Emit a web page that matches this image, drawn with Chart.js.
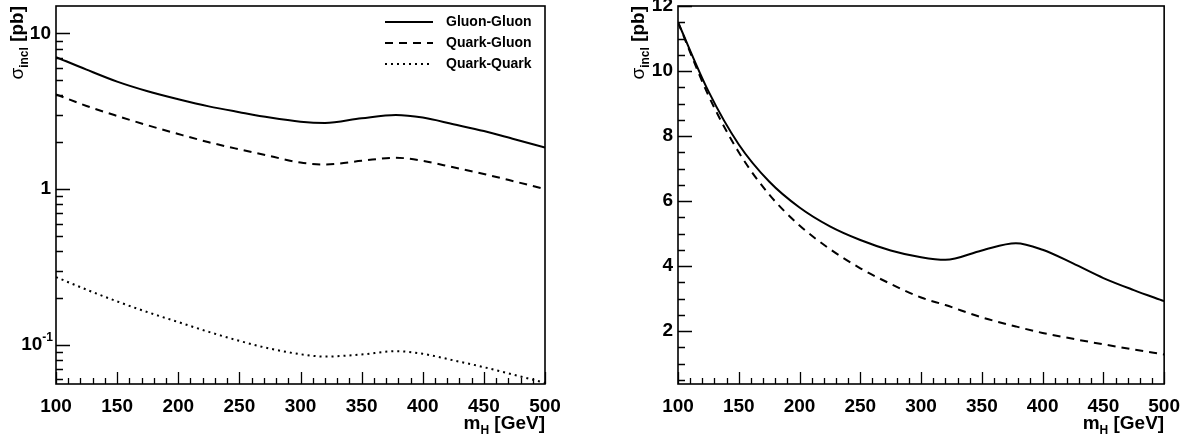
<!DOCTYPE html>
<html><head><meta charset="utf-8">
<script src="https://cdn.jsdelivr.net/npm/chart.js@4.4.0/dist/chart.umd.min.js"></script>
<style>
html,body{margin:0;padding:0;background:#fff;width:1191px;height:436px;overflow:hidden}
#l{position:absolute;left:0;top:0;width:595px;height:436px}
#r{position:absolute;left:595px;top:0;width:596px;height:436px}
canvas{display:block}
</style></head><body>
<div id="l"><canvas id="cl" width="595" height="436"></canvas></div>
<div id="r"><canvas id="cr" width="596" height="436"></canvas></div>
<script>
// ---- data ----
const massPoints   = [100,125,150,175,200,225,250,275,300,320,350,378,400,425,450,475,500];
const gluonGluonL  = [7.05,5.85,4.9,4.25,3.78,3.4,3.12,2.88,2.71,2.66,2.85,2.99,2.88,2.61,2.36,2.09,1.85];
const quarkGluonL  = [4.06,3.42,2.95,2.57,2.26,2.0,1.80,1.63,1.48,1.44,1.52,1.59,1.52,1.38,1.25,1.12,1.0];
const quarkQuarkL  = [0.272,0.226,0.19,0.162,0.14,0.121,0.106,0.0945,0.087,0.084,0.0867,0.091,0.0875,0.0795,0.0718,0.0641,0.057];
const solidR       = [11.5,9.38,7.74,6.6,5.8,5.22,4.8,4.48,4.27,4.19,4.48,4.70,4.5,4.08,3.63,3.26,2.92];
const dashedR      = [11.5,9.25,7.5,6.2,5.25,4.52,3.93,3.45,3.03,2.80,2.42,2.14,1.94,1.76,1.59,1.43,1.28];
const legendLabels = ['Gluon-Gluon','Quark-Gluon','Quark-Quark'];
const xTickStep = 50;
const leftYTickValues  = [0.1, 1, 10];
const leftYTickLabels  = ['10^-1', '1', '10'];
const rightYTickValues = [2, 4, 6, 8, 10, 12];
const rightYTickLabels = ['2', '4', '6', '8', '10', '12'];

const pts = arr => arr.map((v,i)=>({x:massPoints[i], y:v}));
const FONT = '"Liberation Sans", Arial, Helvetica, sans-serif';

function drawRuns(ctx, runs, x, y, align){
  let w = 0;
  runs.forEach(r=>{ ctx.font = (r.weight||'bold')+' '+r.size+'px '+FONT; r.w = ctx.measureText(r.t).width; w += r.w; });
  let cx = align==='right' ? x - w : x;
  runs.forEach(r=>{ ctx.font = (r.weight||'bold')+' '+r.size+'px '+FONT; ctx.fillText(r.t, cx, y + (r.dy||0)); cx += r.w; });
}

const rootFrame = {
  id:'rootFrame',
  afterDraw(chart, args, cfg){
    const {ctx, chartArea:a, scales:{x,y}} = chart;
    ctx.save();
    ctx.strokeStyle='#000'; ctx.fillStyle='#000';
    ctx.lineWidth=1.6;
    ctx.strokeRect(a.left, a.top, a.right-a.left, a.bottom-a.top);
    // x ticks
    ctx.lineWidth=1.3;
    ctx.beginPath();
    for(let v=x.min; v<=x.max+1e-6; v+=10){
      const px = Math.round(x.getPixelForValue(v))+0.5;
      const len = (v % xTickStep===0) ? 12 : 6;
      ctx.moveTo(px, a.bottom); ctx.lineTo(px, a.bottom-len);
    }
    // y ticks
    cfg.yMinor.forEach(v=>{ if(v<y.min||v>y.max) return; const py=Math.round(y.getPixelForValue(v))+0.5; ctx.moveTo(a.left,py); ctx.lineTo(a.left+7,py); });
    cfg.yMajor.forEach(v=>{ if(v<y.min||v>y.max) return; const py=Math.round(y.getPixelForValue(v))+0.5; ctx.moveTo(a.left,py); ctx.lineTo(a.left+14,py); });
    ctx.stroke();
    // y tick labels
    ctx.textBaseline='middle';
    cfg.yLabelValues.forEach((v,i)=>{
      const py = y.getPixelForValue(v);
      const lab = cfg.yLabels[i];
      if(lab.includes('^')){
        const [b,s] = lab.split('^');
        drawRuns(ctx,[{t:b,size:19},{t:s,size:12,dy:-7}], a.left-3, py, 'right');
      } else {
        drawRuns(ctx,[{t:lab,size:19}], a.left-5, py, 'right');
      }
    });
    // x title
    ctx.textBaseline='alphabetic';
    drawRuns(ctx,[{t:'m',size:19},{t:'H',size:12,dy:5},{t:' [GeV]',size:19}], a.right, 429, 'right');
    // y title (rotated)
    ctx.save();
    ctx.translate(cfg.yTitleX, a.top);
    ctx.rotate(-Math.PI/2);
    drawRuns(ctx,[{t:'σ',size:19,weight:'normal'},{t:'incl',size:12,dy:5},{t:' [pb]',size:19}], 0, 0, 'right');
    ctx.restore();
    // legend
    if(cfg.legend){
      chart.data.datasets.forEach((ds,i)=>{
        const ly = 22 + i*21;
        ctx.save();
        ctx.lineWidth = ds.borderWidth; ctx.setLineDash(ds.borderDash||[]);
        ctx.beginPath(); ctx.moveTo(385, ly); ctx.lineTo(433, ly); ctx.stroke();
        ctx.restore();
        ctx.textBaseline='middle';
        drawRuns(ctx,[{t:ds.label,size:14}], 446, ly, 'left');
      });
    }
    ctx.restore();
  }
};

function xScale(){
  return {type:'linear', min:100, max:500,
    afterFit: s=>{ s.height = 52; },
    grid:{display:false, drawTicks:false}, border:{display:false},
    ticks:{stepSize:xTickStep, color:'#000', padding:11, font:{family:FONT, size:19, weight:'bold'}, maxRotation:0}};
}

const lineBase = {borderColor:'#000', pointRadius:0, fill:false, cubicInterpolationMode:'monotone', borderWidth:2};

const leftMinor = [];
[0.01,0.1,1].forEach(d=>{ for(let k=2;k<=9;k++) leftMinor.push(k*d); });
const rightMinor = [];
for(let v=0.5; v<=12; v+=0.5) if(v%2!==0) rightMinor.push(v);

new Chart(document.getElementById('cl'), {
  type:'line',
  data:{datasets:[
    {...lineBase, label:legendLabels[0], data:pts(gluonGluonL)},
    {...lineBase, label:legendLabels[1], data:pts(quarkGluonL), borderDash:[8,6]},
    {...lineBase, label:legendLabels[2], data:pts(quarkQuarkL), borderDash:[2,4]}
  ]},
  options:{responsive:false, animation:false,
    layout:{padding:{left:0, top:6, right:50, bottom:0}},
    plugins:{legend:{display:false}, tooltip:{enabled:false},
      rootFrame:{legend:true, yMajor:leftYTickValues, yMinor:leftMinor, yLabelValues:leftYTickValues, yLabels:leftYTickLabels, yTitleX:23}},
    scales:{
      x:xScale(),
      y:{type:'logarithmic', min:0.056, max:15, afterFit: s=>{ s.width = 56; },
        grid:{display:false, drawTicks:false}, border:{display:false}, ticks:{display:false}}
    }},
  plugins:[rootFrame]
});

new Chart(document.getElementById('cr'), {
  type:'line',
  data:{datasets:[
    {...lineBase, label:'solid', data:pts(solidR)},
    {...lineBase, label:'dashed', data:pts(dashedR), borderDash:[8,6]}
  ]},
  options:{responsive:false, animation:false,
    layout:{padding:{left:0, top:6, right:26, bottom:0}},
    plugins:{legend:{display:false}, tooltip:{enabled:false},
      rootFrame:{legend:false, yMajor:rightYTickValues, yMinor:rightMinor, yLabelValues:rightYTickValues, yLabels:rightYTickLabels, yTitleX:49}},
    scales:{
      x:xScale(),
      y:{type:'linear', min:0.37, max:12, afterFit: s=>{ s.width = 83; },
        grid:{display:false, drawTicks:false}, border:{display:false}, ticks:{display:false}}
    }},
  plugins:[rootFrame]
});
</script>
</body></html>
